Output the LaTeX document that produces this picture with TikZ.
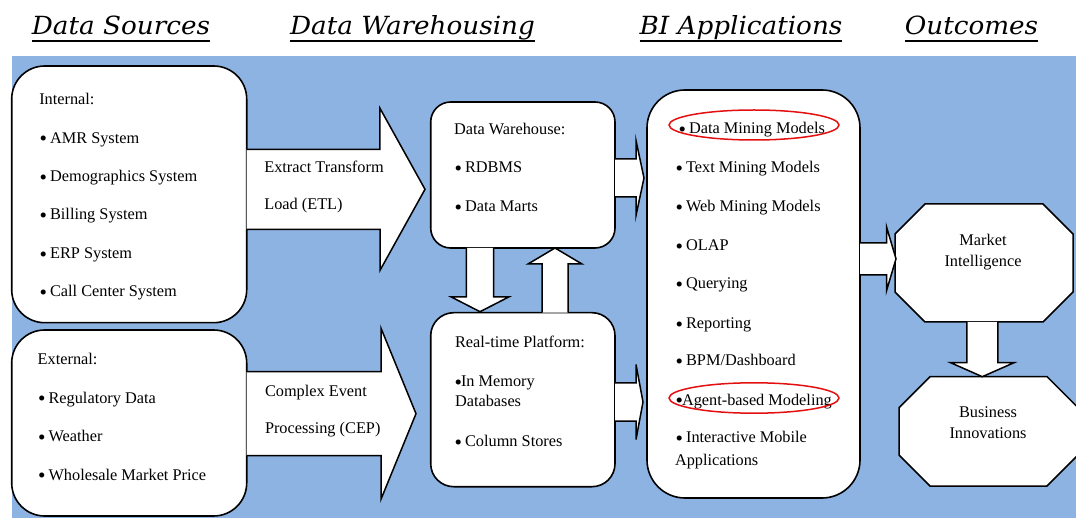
\documentclass[tikz,border=0pt]{standalone}
\usepackage{fontspec}
\setmainfont{Liberation Serif}
\newfontfamily\headfont[FakeStretch=1.05]{DejaVu Serif}
\usetikzlibrary{calc}

\definecolor{bgblue}{RGB}{141,179,226}
\definecolor{ringred}{RGB}{228,16,16}

% list bullet, a little heavier than the text face's own
\newcommand{\blt}{\makebox[6.5pt][l]{\raisebox{-2.5pt}{\scalebox{1.3}{•}}}}

% block arrow from #1 to the tip #2: body half width #3, head half width #4, head length #5
\newcommand{\blockarr}[5]{%
  \coordinate (ab) at ($(#2)!#5!(#1)$);
  \draw[blockarrow]
    ($(#1)!#3!90:(#2)$) -- ($(ab)!#3!90:(#2)$) -- ($(ab)!#4!90:(#2)$) -- (#2)
    -- ($(ab)!#4!-90:(#2)$) -- ($(ab)!#3!-90:(#2)$) -- ($(#1)!#3!-90:(#2)$);
}
% octagon round centre #1: half width #2, half height #3, chamfer #4
\newcommand{\octo}[4]{%
  \draw[octline] let \p1=(#1) in
    (\x1-#2+#4,\y1+#3) -- (\x1+#2-#4,\y1+#3) -- (\x1+#2,\y1+#3-#4) -- (\x1+#2,\y1-#3+#4)
    -- (\x1+#2-#4,\y1-#3) -- (\x1-#2+#4,\y1-#3) -- (\x1-#2,\y1-#3+#4) -- (\x1-#2,\y1+#3-#4) -- cycle;
}

\begin{document}
\begin{tikzpicture}[x=1pt,y=-1pt,
  every node/.style={inner sep=0pt, outer sep=0pt},
  bodytext/.style={font=\fontsize{16.3}{19}\selectfont, anchor=base west},
  midtext/.style={font=\fontsize{16.3}{19}\selectfont, anchor=base},
  headtext/.style={font=\headfont\itshape\fontsize{25}{29}\selectfont, anchor=base},
  panel/.style={draw, fill=white, line width=1.6pt, rounded corners=#1},
  blockarrow/.style={draw, fill=white, line width=1.5pt},
  octline/.style={draw, fill=white, line width=1.5pt},
  ring/.style={draw=ringred, line width=1.5pt},
  underline/.style={line width=1.6pt}
]
\useasboundingbox (0,0) rectangle (1076,518);
\clip (0,0) rectangle (1076,518);

% column headings
\node[headtext] (hsrc) at (121,35) {Data Sources};
\node[headtext] (hdw)  at (412.5,35) {Data Warehousing};
\node[headtext] (hbi)  at (741,35) {BI Applications};
\node[headtext] (hout) at (971.5,35) {Outcomes};
\foreach \h in {hsrc,hdw,hbi,hout}
  \draw[underline] ([yshift=-5.9pt]\h.base west) -- ([yshift=-5.9pt]\h.base east);

% backdrop
\fill[bgblue] (11.5,56) rectangle (1076,518);

% panels
\node[panel=33pt, minimum width=235pt, minimum height=256.7pt] (int) at (129.2,194.35) {};
\node[panel=33pt, minimum width=235pt, minimum height=186pt]   (ext) at (129.2,423) {};
\node[panel=20pt, minimum width=184.3pt, minimum height=146pt] (dw)  at (522.85,175) {};
\node[panel=23pt, minimum width=184.3pt, minimum height=174pt] (rt)  at (522.85,399.7) {};
\node[panel=38pt, minimum width=213pt, minimum height=408pt]   (bi)  at (753.5,294) {};

% outcome octagons
\coordinate (mic) at (984,263);
\coordinate (bnc) at (988.5,431.35);
\octo{mic}{89pt}{59pt}{30pt}
\octo{bnc}{89.5pt}{54.65pt}{31pt}

% arrow end points
\coordinate (etlS) at ($(int.east)+(0,-5)$);
\coordinate (etlT) at ($(dw.west)+(-5.7,14.3)$);
\coordinate (cepS) at ($(ext.east)+(0,-9.3)$);
\coordinate (cepT) at ($(rt.west)+(-14.7,14)$);
\coordinate (dbS)  at ($(dw.east)+(0,3)$);
\coordinate (dbT)  at ($(bi.west)+(-3,-116)$);
\coordinate (rbS)  at ($(rt.east)+(0,2.3)$);
\coordinate (rbT)  at ($(bi.west)+(-4,108)$);
\coordinate (bmS)  at ($(bi.east)+(0,-35.2)$);
\coordinate (bmT)  at ($(mic)+(-88,-4.2)$);
\coordinate (drS)  at ($(dw.south)+(-42.85,0)$);
\coordinate (drT)  at ($(rt.north)+(-42.85,-1)$);
\coordinate (urS)  at ($(rt.north)+(32.15,0)$);
\coordinate (urT)  at ($(dw.south)+(32.15,0)$);
\coordinate (mbS)  at ($(mic)+(-1.7,59)$);
\coordinate (mbT)  at ($(bnc)+(-6.2,-54.65)$);

% block arrows
\blockarr{etlS}{etlT}{40pt}{81pt}{45pt}
\blockarr{cepS}{cepT}{42pt}{85.5pt}{35pt}
\blockarr{dbS}{dbT}{19pt}{37.5pt}{8pt}
\blockarr{rbS}{rbT}{19pt}{37.5pt}{7pt}
\blockarr{bmS}{bmT}{16pt}{32pt}{9.5pt}
\blockarr{drS}{drT}{13.7pt}{28.7pt}{14.7pt}
\blockarr{urS}{urT}{13pt}{27pt}{16pt}
\blockarr{mbS}{mbT}{15.5pt}{31.7pt}{14pt}

% data sources
\node[bodytext] (i0) at (39.3,104.3) {Internal:};
\node[bodytext] (i1) at (39.5,143.3) {\blt\ AMR System};
\node[bodytext] (i2) at (39.5,181.7) {\blt\ Demographics System};
\node[bodytext] (i3) at (39.5,220)   {\blt\ Billing System};
\node[bodytext] (i4) at (39.5,258.7) {\blt\ ERP System};
\node[bodytext] (i5) at (39.5,296.7) {\blt\ Call Center System};

\node[bodytext] (e0) at (37.7,365)   {External:};
\node[bodytext] (e1) at (38,403.3) {\blt\ Regulatory Data};
\node[bodytext] (e2) at (38,441.7) {\blt\ Weather};
\node[bodytext] (e3) at (38,480)   {\blt\ Wholesale Market Price};

% arrow labels
\node[bodytext] (etl1) at (264.3,172.7) {Extract Transform};
\node[bodytext] (etl2) at (264.3,209.3) {Load (ETL)};
\node[bodytext] (cep1) at (265,396.7) {Complex Event};
\node[bodytext] (cep2) at (265,433.3) {Processing (CEP)};

% warehousing
\node[bodytext] (w0) at (454,135) {Data Warehouse:};
\node[bodytext] (w1) at (454.5,173) {\blt\ RDBMS};
\node[bodytext] (w2) at (454.5,212) {\blt\ Data Marts};

\node[bodytext] (r0) at (455,348)   {Real-time Platform:};
\node[bodytext] (r1) at (454.5,386.7) {\blt In Memory};
\node[bodytext] (r2) at (455,406.7) {Databases};
\node[bodytext] (r3) at (454.5,446.7) {\blt\ Column Stores};

% BI applications
\node[bodytext] (b1)  at (678.5,134)   {\blt\ Data Mining Models};
\node[bodytext] (b2)  at (675.5,173)   {\blt\ Text Mining Models};
\node[bodytext] (b3)  at (675.5,211.7) {\blt\ Web Mining Models};
\node[bodytext] (b4)  at (675.5,250.7) {\blt\ OLAP};
\node[bodytext] (b5)  at (675.5,289)   {\blt\ Querying};
\node[bodytext] (b6)  at (675.5,329)   {\blt\ Reporting};
\node[bodytext] (b7)  at (675.5,366)   {\blt\ BPM/Dashboard};
\node[bodytext] (b8)  at (675.5,405)   {\blt Agent-based Modeling};
\node[bodytext] (b9)  at (675.5,442.7) {\blt\ Interactive Mobile};
\node[bodytext] (b10) at (675,465)   {Applications};

% outcomes
\node[midtext] (m1) at (983,246)   {Market};
\node[midtext] (m2) at (983,267)   {Intelligence};
\node[midtext] (n1) at (988,417.3) {Business};
\node[midtext] (n2) at (988,438.3) {Innovations};

% highlight rings
\draw[ring] (754,125) ellipse [x radius=85, y radius=15];
\draw[ring] (754,398) ellipse [x radius=85, y radius=15.2];
\end{tikzpicture}
\end{document}
